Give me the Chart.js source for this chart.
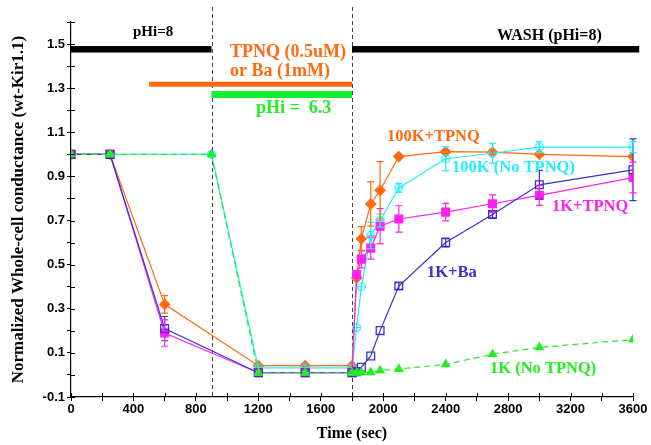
<!DOCTYPE html>
<html>
<head>
<meta charset="utf-8">
<script src="https://cdn.jsdelivr.net/npm/chart.js@4.4.1/dist/chart.umd.min.js"></script>
<style>
  html, body { margin: 0; padding: 0; background: #fff; }
</style>
</head>
<body>
<canvas id="myChart" width="651" height="445"></canvas>
<script>
// sampling times (sec) - drug runs and pHi-only runs
var tDrug = [0, 250, 600, 1200, 1500, 1800, 1830, 1860, 1920, 1980, 2100, 2400, 2700, 3000, 3600];
var tPh   = [0, 250, 900, 1200, 1500, 1800, 1830, 1860, 1920, 1980, 2100, 2400, 2700, 3000, 3600];

// normalized conductance, with +/- error
var k100Tpnq    = [1, 1, 0.32, 0.042, 0.042, 0.042, 0.44, 0.617, 0.775, 0.837, 0.99, 1.012, 1.01, 1.0, 0.99];
var k100TpnqErr = [0, 0, 0.04, 0, 0, 0, 0, 0.055, 0.1, 0.13, 0, 0.01, 0.01, 0, 0];

var k100NoTpnq    = [1, 1, 1, 0.032, 0.032, 0.032, 0.215, 0.40, 0.632, 0.70, 0.848, 0.98, 1.005, 1.033, 1.033];
var k100NoTpnqErr = [0, 0, 0, 0, 0, 0, 0, 0, 0.06, 0.03, 0.02, 0.055, 0.045, 0.025, 0.025];

var k1Tpnq    = [1, 1, 0.19, 0.01, 0.01, 0.01, 0.455, 0.525, 0.575, 0.674, 0.707, 0.738, 0.776, 0.814, 0.895];
var k1TpnqErr = [0, 0, 0.06, 0, 0, 0, 0, 0.04, 0.05, 0.08, 0.06, 0.04, 0.04, 0.045, 0.07];

var k1Ba    = [1, 1, 0.21, 0.01, 0.01, 0.01, 0.015, 0.035, 0.086, 0.201, 0.403, 0.60, 0.727, 0.862, 0.93];
var k1BaErr = [0, 0, 0.055, 0, 0, 0, 0, 0, 0, 0, 0.015, 0.02, 0.015, 0.065, 0.14];

var k1NoTpnq = [1, 1, 1, 0.01, 0.01, 0.01, 0.01, 0.012, 0.012, 0.02, 0.027, 0.048, 0.094, 0.125, 0.16];

// solution periods (sec)
var washPeriods = [[0, 900], [1800, 3640]];
var blockerPeriod = [500, 1800];
var acidPeriod = [900, 1800];

var yTicks = [-0.1, 0.1, 0.3, 0.5, 0.7, 0.9, 1.1, 1.3, 1.5];
var xTicks = [0, 400, 800, 1200, 1600, 2000, 2400, 2800, 3200, 3600];

var ORANGE = '#ff6a10', CYAN = '#22eeff', MAGENTA = '#ff22ee', BLUE = '#3b2fd0', GREEN = '#22ee22';
var SERIF = '"Liberation Serif", "Times New Roman", serif';
var SANS = '"Liberation Sans", Arial, sans-serif';

function pts(xs, ys) {
  return xs.map(function (x, i) { return { x: x, y: ys[i] }; });
}
function bar(range, level) {
  return [{ x: range[0], y: level }, { x: range[1], y: level }];
}

// open circle with a cross, for the 100K (No TPNQ) points
function crossCircle(color) {
  var cv = document.createElement('canvas');
  cv.width = 11; cv.height = 11;
  var g = cv.getContext('2d');
  g.strokeStyle = color;
  g.lineWidth = 1.2;
  g.beginPath(); g.arc(5.5, 5.5, 4, 0, Math.PI * 2); g.stroke();
  g.beginPath();
  g.moveTo(5.5, 1.5); g.lineTo(5.5, 9.5);
  g.moveTo(1.5, 5.5); g.lineTo(9.5, 5.5);
  g.stroke();
  return cv;
}

function series(label, xs, ys, err, color, style, fill, radius, order, dash) {
  return {
    label: label, data: pts(xs, ys), err: err, order: order,
    borderColor: color, borderWidth: 1.2, borderDash: dash || [],
    pointStyle: style, pointRadius: radius, pointBorderWidth: 1.3,
    pointBackgroundColor: fill, pointBorderColor: color,
    tension: 0, fill: false
  };
}
function barSet(data, color, width) {
  return {
    data: data, borderColor: color, borderWidth: width, pointRadius: 0,
    borderCapStyle: 'butt', clip: false, order: 10
  };
}

var datasets = [
  series('1K (No TPNQ)', tPh, k1NoTpnq, null, GREEN, 'triangle', GREEN, 4.5, 1, [6, 4]),
  series('1K+Ba', tDrug, k1Ba, k1BaErr, BLUE, 'rect', 'rgba(255,255,255,0)', 5.5, 2),
  series('1K+TPNQ', tDrug, k1Tpnq, k1TpnqErr, MAGENTA, 'rect', MAGENTA, 5.5, 3),
  series('100K (No TPNQ)', tPh, k100NoTpnq, k100NoTpnqErr, CYAN, crossCircle(CYAN), 'rgba(255,255,255,0)', 5, 4),
  series('100K+TPNQ', tDrug, k100Tpnq, k100TpnqErr, ORANGE, 'rectRot', ORANGE, 5, 5),
  barSet(bar(washPeriods[0], 1.477), '#000', 6.5),
  barSet(bar(washPeriods[1], 1.477), '#000', 6.5),
  barSet(bar(blockerPeriod, 1.318), ORANGE, 5),
  barSet(bar(acidPeriod, 1.271), '#11ee33', 7)
];

// text labels placed in data coordinates
var notes = [
  { text: 'pHi=8', x: 397, y: 1.553, color: '#000', size: 15 },
  { text: 'WASH (pHi=8)', x: 2729, y: 1.536, color: '#000', size: 16 },
  { text: 'TPNQ (0.5uM)', x: 1019, y: 1.464, color: ORANGE, size: 18 },
  { text: 'or Ba (1mM)', x: 1019, y: 1.377, color: ORANGE, size: 18 },
  { text: 'pHi =  6.3', x: 1185, y: 1.209, color: GREEN, size: 18 },
  { text: '100K+TPNQ', x: 2024, y: 1.082, color: ORANGE, size: 16.5 },
  { text: '100K (No TPNQ)', x: 2441, y: 0.941, color: CYAN, size: 16.5 },
  { text: '1K+TPNQ', x: 3081, y: 0.764, color: MAGENTA, size: 16.5 },
  { text: '1K+Ba', x: 2280, y: 0.464, color: BLUE, size: 16.5 },
  { text: '1K (No TPNQ)', x: 2684, y: 0.027, color: GREEN, size: 16.5 }
];

var extras = {
  id: 'extras',
  beforeDatasetsDraw: function (chart) {
    var c = chart.ctx, xs = chart.scales.x, area = chart.chartArea;
    c.save();
    c.strokeStyle = '#444';
    c.lineWidth = 1;
    c.setLineDash([4, 3]);
    [acidPeriod[0], acidPeriod[1]].forEach(function (t) {
      var px = Math.round(xs.getPixelForValue(t)) + 0.5;
      c.beginPath();
      c.moveTo(px, area.top - 15);
      c.lineTo(px, area.bottom);
      c.stroke();
    });
    c.restore();
  },
  afterDatasetsDraw: function (chart) {
    var c = chart.ctx, xs = chart.scales.x, ys = chart.scales.y;
    c.save();
    // error bars
    chart.data.datasets.forEach(function (ds) {
      if (!ds.err) return;
      c.strokeStyle = ds.borderColor;
      c.lineWidth = 1.2;
      ds.data.forEach(function (p, i) {
        var e = ds.err[i];
        if (!e) return;
        var px = xs.getPixelForValue(p.x);
        var top = ys.getPixelForValue(p.y + e), bot = ys.getPixelForValue(p.y - e);
        c.beginPath();
        c.moveTo(px, top); c.lineTo(px, bot);
        c.moveTo(px - 3.5, top); c.lineTo(px + 3.5, top);
        c.moveTo(px - 3.5, bot); c.lineTo(px + 3.5, bot);
        c.stroke();
      });
    });
    // inward halves of the axis ticks
    c.strokeStyle = '#000';
    c.lineWidth = 1;
    xs.ticks.forEach(function (t) {
      var px = Math.round(xs.getPixelForValue(t.value)) + 0.5;
      c.beginPath(); c.moveTo(px, ys.bottom); c.lineTo(px, ys.bottom - 4); c.stroke();
    });
    ys.ticks.forEach(function (t) {
      var py = Math.round(ys.getPixelForValue(t.value)) + 0.5;
      c.beginPath(); c.moveTo(xs.left, py); c.lineTo(xs.left + 4, py); c.stroke();
    });
    // labels
    c.textBaseline = 'middle';
    c.textAlign = 'left';
    notes.forEach(function (n) {
      c.fillStyle = n.color;
      c.font = 'bold ' + n.size + 'px ' + SERIF;
      c.fillText(n.text, xs.getPixelForValue(n.x), ys.getPixelForValue(n.y));
    });
    c.restore();
  }
};

function isMajor(list, v) {
  return list.some(function (m) { return Math.abs(m - v) < 1e-6; });
}

var ctx = document.getElementById('myChart');
var myChart = new Chart(ctx, {
  type: 'line',
  data: { datasets: datasets },
  plugins: [extras],
  options: {
    responsive: false,
    animation: false,
    layout: { padding: { top: 22, right: 18, left: 0, bottom: 0 } },
    plugins: { legend: { display: false }, tooltip: { enabled: false } },
    scales: {
      x: {
        type: 'linear', min: 0, max: 3600,
        afterFit: function (s) { s.height = 48; },
        border: { color: '#000', width: 1.2 },
        grid: { drawOnChartArea: false, color: '#000', tickLength: 4 },
        ticks: {
          stepSize: 200, autoSkip: false, maxRotation: 0, padding: 1, color: '#000',
          font: { family: SANS, size: 13, weight: 'bold' },
          callback: function (v) { return isMajor(xTicks, v) ? String(v) : ''; }
        },
        title: {
          display: true, text: 'Time (sec)', color: '#000', padding: { top: 0, bottom: 2 },
          font: { family: SERIF, size: 16, weight: 'bold' }
        }
      },
      y: {
        type: 'linear', min: -0.1, max: 1.6,
        afterFit: function (s) { s.width = 71; },
        border: { color: '#000', width: 1.2 },
        grid: { drawOnChartArea: false, color: '#000', tickLength: 4 },
        ticks: {
          stepSize: 0.1, autoSkip: false, padding: 2, color: '#000',
          font: { family: SANS, size: 13, weight: 'bold' },
          callback: function (v) { return isMajor(yTicks, v) ? v.toFixed(1) : ''; }
        },
        title: {
          display: true, text: 'Normalized Whole-cell conductance (wt-Kir1.1)', color: '#000',
          padding: { top: 8, bottom: 0 },
          font: { family: SERIF, size: 17, weight: 'bold' }
        }
      }
    }
  }
});
</script>
</body>
</html>
